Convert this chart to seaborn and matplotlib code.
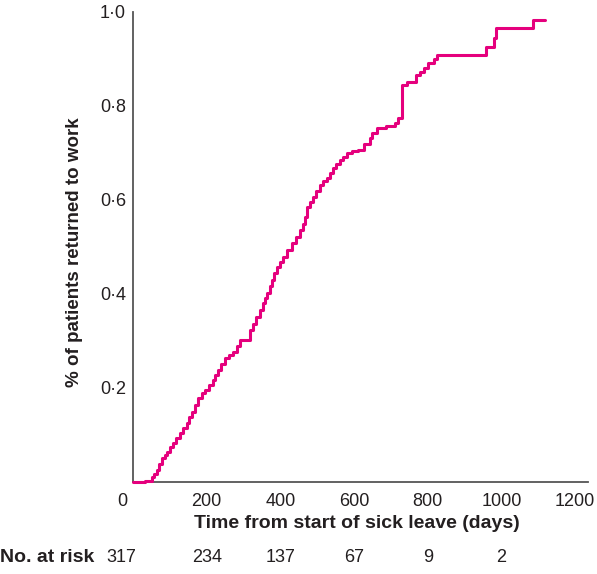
import matplotlib
matplotlib.use("Agg")
import matplotlib.pyplot as plt
import matplotlib.transforms as mtrans
import seaborn as sns

# Kaplan-Meier style cumulative return to work
days = [0, 33, 52, 58, 64, 70, 79, 86, 92, 100, 108, 118, 127, 136, 146, 153,
        160, 168, 176, 186, 195, 206, 217, 222, 232, 240, 249, 260, 271, 281,
        290, 317, 325, 334, 344, 352, 357, 363, 371, 377, 384, 390, 398, 407,
        419, 431, 442, 453, 461, 466, 472, 480, 488, 498, 507, 516, 526, 534,
        542, 552, 561, 570, 580, 595, 610, 626, 642, 650, 661, 688, 710, 718,
        729, 743, 767, 778, 789, 800, 818, 824, 959, 981, 986, 1087, 1117]
returned = [0.0, 0.003, 0.010, 0.018, 0.026, 0.038, 0.051, 0.058, 0.064, 0.074,
            0.083, 0.094, 0.104, 0.115, 0.126, 0.138, 0.149, 0.164, 0.179,
            0.190, 0.196, 0.206, 0.217, 0.228, 0.238, 0.251, 0.264, 0.270,
            0.277, 0.290, 0.302, 0.323, 0.336, 0.351, 0.366, 0.381, 0.392,
            0.402, 0.416, 0.430, 0.444, 0.457, 0.468, 0.479, 0.494, 0.509,
            0.522, 0.536, 0.550, 0.564, 0.585, 0.596, 0.606, 0.619, 0.632,
            0.640, 0.647, 0.657, 0.668, 0.677, 0.685, 0.692, 0.700, 0.704,
            0.706, 0.719, 0.732, 0.742, 0.753, 0.757, 0.764, 0.774, 0.845,
            0.851, 0.866, 0.873, 0.881, 0.891, 0.900, 0.908, 0.926, 0.945,
            0.966, 0.983, 0.983]

x_ticks = [0, 200, 400, 600, 800, 1000, 1200]
y_ticks = [0.2, 0.4, 0.6, 0.8, 1.0]
y_tick_labels = ["0·2", "0·4", "0·6", "0·8", "1·0"]
at_risk = [317, 234, 137, 67, 9, 2]

sns.set_style("white")
plt.rcParams['font.family'] = ['Liberation Sans', 'DejaVu Sans']
text_col = "#231f20"
spine_col = "#555555"

fig = plt.figure(figsize=(5.97, 5.74), dpi=100)
ax = fig.add_axes([133 / 597, 1 - 482 / 574, 455 / 597, 470 / 574])

sns.lineplot(x=days, y=returned, ax=ax, estimator=None, drawstyle="steps-post",
             color="#E5007D", linewidth=2.2, zorder=5, clip_on=False)

ax.set_xlim(0, 1235)
ax.set_ylim(0, 1.0)
ax.set_xticks(x_ticks)
ax.set_xticklabels([str(t) for t in x_ticks])
ax.set_yticks(y_ticks)
ax.set_yticklabels(y_tick_labels)
ax.tick_params(axis="both", direction="in", length=7.5, width=1.1,
               color=spine_col, labelsize=13, labelcolor=text_col)
ax.tick_params(axis="x", pad=8)
ax.tick_params(axis="y", pad=5)

# the 0 label sits a little left of the corner
zero_lbl = ax.get_xticklabels()[0]
zero_lbl.set_transform(zero_lbl.get_transform() +
                       mtrans.ScaledTranslation(-11 / 100, 0, fig.dpi_scale_trans))

for side in ["top", "right"]:
    ax.spines[side].set_visible(False)
for side in ["left", "bottom"]:
    ax.spines[side].set_color(spine_col)
    ax.spines[side].set_linewidth(1.3)

fig.text(357 / 597, 1 - 523 / 574, "Time from start of sick leave (days)",
         ha="center", va="center", fontsize=14, fontweight="bold", color=text_col)
fig.text(75 / 597, 1 - 252 / 574, "% of patients returned to work", rotation=90,
         ha="center", va="center", fontsize=13.5, fontweight="bold", color=text_col)

# number at risk row
fig.text(0 / 597, 1 - 558 / 574, "No. at risk", ha="left", va="center",
         fontsize=14, fontweight="bold", color=text_col)
row = mtrans.blended_transform_factory(ax.transData, fig.transFigure)
for i, n in enumerate(at_risk):
    xpos = x_ticks[i]
    tr = row
    if i == 0:
        tr = row + mtrans.ScaledTranslation(-12 / 100, 0, fig.dpi_scale_trans)
    fig.text(xpos, 1 - 558 / 574, str(n), transform=tr, ha="center", va="center",
             fontsize=13, color=text_col)

fig.savefig("out.png", dpi=100)
